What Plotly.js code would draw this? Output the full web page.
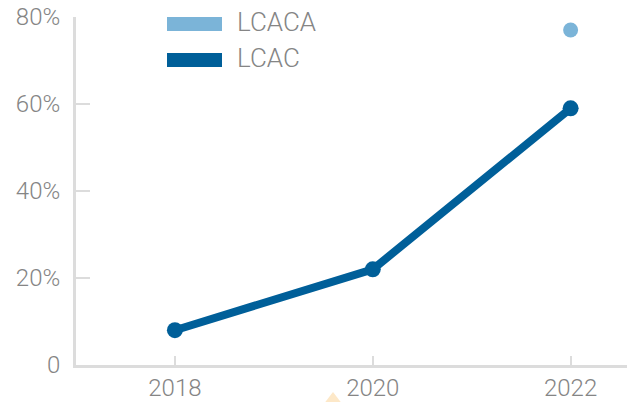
<!DOCTYPE html>
<html>
<head>
<meta charset="utf-8">
<script src="https://cdn.plot.ly/plotly-3.0.1.min.js"></script>
<style>html,body{margin:0;padding:0;background:#fff;}#chart{width:637px;height:402px;}</style>
</head>
<body>
<div id="chart"></div>
<script>
const years = [2018, 2020, 2022];
const lcac = [8, 22, 59];
const lcacaYears = [2022];
const lcaca = [77];
const yTicks = [0, 20, 40, 60, 80];
const yTickText = ['0', '20%', '40%', '60%', '80%'];
const seriesNames = ['LCACA', 'LCAC'];
const colors = {LCACA: '#7bb4d8', LCAC: '#005f99'};

const font = {family: 'Roboto, Lato, sans-serif', size: 24, color: '#858585', weight: 300};
const legendFont = {family: 'Roboto, Lato, sans-serif', size: 26, color: '#858585', weight: 300};

const traces = [
  {x: years, y: lcac, name: 'LCAC', type: 'scatter', mode: 'lines+markers',
   line: {color: colors.LCAC, width: 8}, marker: {color: colors.LCAC, size: 16}, cliponaxis: false},
  {x: lcacaYears, y: lcaca, name: 'LCACA', type: 'scatter', mode: 'markers',
   marker: {color: colors.LCACA, size: 15}, cliponaxis: false}
];

const shapes = [];
const annotations = [];
seriesNames.forEach((n, i) => {
  const yTop = 1 - (i * 36) / 348;
  shapes.push({type: 'rect', xref: 'paper', yref: 'paper',
    x0: 91 / 551, x1: 146 / 551, y0: yTop - 14 / 348, y1: yTop,
    fillcolor: colors[n], line: {width: 0}});
  annotations.push({xref: 'paper', yref: 'paper', x: 159 / 551, y: yTop - 5 / 348,
    xanchor: 'left', yanchor: 'middle', text: n, showarrow: false, font: legendFont});
});
// small pale triangle near the bottom
shapes.push({type: 'path', xref: 'paper', yref: 'paper',
  path: 'M ' + (247/551) + ' ' + (-40/348) + ' L ' + (257/551) + ' ' + (-27/348) + ' L ' + (267/551) + ' ' + (-40/348) + ' Z',
  fillcolor: '#fde8c8', line: {width: 0}});

const layout = {
  width: 637, height: 402,
  margin: {l: 76, r: 10, t: 17, b: 37},
  paper_bgcolor: '#fff', plot_bgcolor: '#fff',
  showlegend: false,
  font: font,
  xaxis: {range: [2017, 2022.57], tickvals: years, ticktext: years.map(String),
    showgrid: false, zeroline: false, showline: true, linecolor: '#dcdcdc', linewidth: 3,
    ticks: 'inside', ticklen: 9, tickwidth: 2, tickcolor: '#dcdcdc', tickfont: font, ticklabelstandoff: -1},
  yaxis: {range: [0, 80], tickvals: yTicks, ticktext: yTickText,
    showgrid: false, zeroline: false, showline: true, linecolor: '#dcdcdc', linewidth: 3,
    ticks: 'inside', ticklen: 14, tickwidth: 2, tickcolor: '#dcdcdc', tickfont: font, ticklabelstandoff: 8},
  shapes: shapes,
  annotations: annotations
};

Plotly.newPlot('chart', traces, layout, {displayModeBar: false, staticPlot: true});
</script>
</body>
</html>
